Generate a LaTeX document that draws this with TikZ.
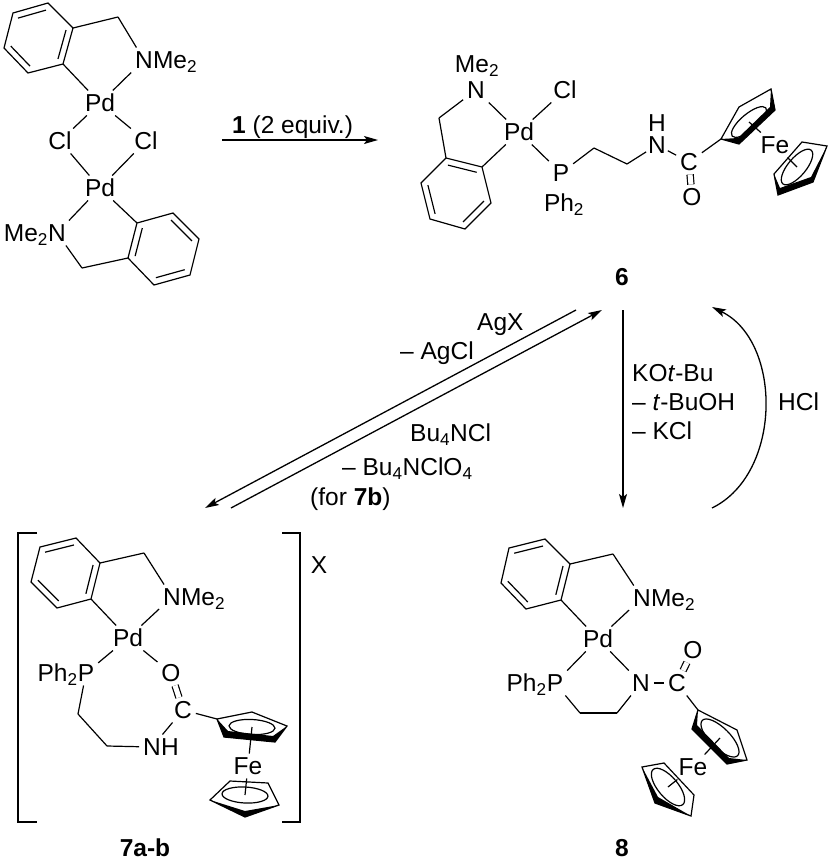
\documentclass[tikz,border=0pt]{standalone}
\usepackage{fontspec}
\setmainfont{Liberation Sans}
\usetikzlibrary{positioning, arrows.meta, calc}

\tikzset{
   atom/.style={inner sep=1pt, outer sep=3pt, text height=17pt, text depth=0pt},
   tailr/.style={inner sep=0pt, text height=17pt, text depth=0pt, right=-4pt of #1},
   taill/.style={inner sep=0pt, text height=17pt, text depth=0pt, left=-4pt of #1},
   lbl/.style={anchor=west, inner sep=0pt, text height=17pt, text depth=0pt},
   cmpd/.style={inner sep=0pt, text height=17pt, text depth=0pt, font=\fontsize{24.5}{28}\selectfont\bfseries},
   bond/.style={line width=1.2pt, line join=miter},
   dbl/.style={double, double distance=5pt, line width=1.2pt},
   rxn/.style={line width=1.3pt, -{Stealth[length=14pt, width=8pt, inset=3pt]}}
}

% benzene ring, double bonds at 1-2, 3-4, 5-6
\newcommand{\arene}[7]{
   \coordinate (#1-1) at #2; \coordinate (#1-2) at #3; \coordinate (#1-3) at #4;
   \coordinate (#1-4) at #5; \coordinate (#1-5) at #6; \coordinate (#1-6) at #7;
   \coordinate (#1-c) at ($(#1-1)!.5!(#1-4)$);
   \draw[bond] (#1-1) -- (#1-2) -- (#1-3) -- (#1-4) -- (#1-5) -- (#1-6) -- cycle;
   \draw[bond] ($(#1-1)!.2!(#1-c)$) -- ($(#1-2)!.2!(#1-c)$);
   \draw[bond] ($(#1-3)!.2!(#1-c)$) -- ($(#1-4)!.2!(#1-c)$);
   \draw[bond] ($(#1-5)!.2!(#1-c)$) -- ($(#1-6)!.2!(#1-c)$);
}
% cyclopentadienyl: name, outline, bold front, centre, inner ellipse
\newcommand{\cpring}[5]{
   \coordinate (#1) at #4;
   \fill #3 -- cycle;
   \draw[bond] #2 -- cycle;
   \draw[bond] (#1) circle[#5];
}

\begin{document}
\begin{tikzpicture}[x=1pt, y=-1pt, every node/.style={font=\fontsize{24.5}{28}\selectfont}]
   \useasboundingbox (0,0) rectangle (831,860);

   % starting dimer
   \arene{ra}{(13,13)}{(48,3)}{(73,28)}{(63,64)}{(28,73)}{(4,48)}
   \arene{rb}{(128,258)}{(137,223)}{(173,213)}{(199,239)}{(190,275)}{(154,285)}
   \coordinate (cha) at (118,17);
   \coordinate (chb) at (82,268);
   \node[atom] (n_a) at (144,60) {N};
   \node[tailr=n_a] (me_a) {Me\textsubscript{2}};
   \node[atom] (pd_a) at (100,103) {Pd};
   \node[atom] (cl_a) at (60,141) {Cl};
   \node[atom] (cl_b) at (146,141) {Cl};
   \node[atom] (pd_b) at (100,188) {Pd};
   \node[atom] (n_b) at (57,233) {N};
   \node[taill=n_b] (me_b) {Me\textsubscript{2}};
   \path[bond]
    (ra-3) edge (cha)
    (cha) edge (n_a)
    (ra-4) edge (pd_a)
    (n_a) edge (pd_a)
    (pd_a) edge (cl_a)
           edge (cl_b)
    (pd_b) edge (cl_a)
           edge (cl_b)
           edge (n_b)
           edge (rb-2)
    (n_b) edge (chb)
    (chb) edge (rb-1);

   % complex 6
   \arene{rc}{(446,158)}{(482,167)}{(491,203)}{(465,229)}{(430,219)}{(421,183)}
   \coordinate (chc) at (439,118);
   \coordinate (ce1) at (594,148);
   \coordinate (ce2) at (627,164);
   \coordinate (cpjc) at (721,139);
   \node[atom] (me_c) at (477,64) {Me\textsubscript{2}};
   \node[atom] (n_c) at (476,90) {N};
   \node[atom] (cl_c) at (565,90) {Cl};
   \node[atom] (pd_c) at (519,132) {Pd};
   \node[atom] (p_c) at (561,173) {P};
   \node[atom] (ph_c) at (564,203) {Ph\textsubscript{2}};
   \node[atom, inner sep=0pt, outer sep=0pt] (h_c) at (657,123) {H};
   \node[atom, outer sep=1pt] (nh_c) at (657,145) {N};
   \node[atom] (co_c) at (689,162) {C};
   \node[atom] (o_c) at (692,197) {O};
   \node[atom] (fe_c) at (775,145) {Fe};
   \cpring{cpa}{(721,139) -- (739,107) -- (771,89) -- (775,110) -- (739,144)}{(721,139) -- (739,144) -- (775,110) -- (771,89) -- (770,107) -- (738,138)}{(749,122)}{x radius=22, y radius=8, rotate=40}
   \cpring{cpb}{(774,174) -- (802,142) -- (827,146) -- (813,182) -- (778,195)}{(774,174) -- (778,195) -- (813,182) -- (827,146) -- (811,177) -- (780,188)}{(797,167)}{x radius=22, y radius=9, rotate=50}
   \path[bond]
    (n_c) edge (chc)
          edge (pd_c)
    (chc) edge (rc-1)
    (pd_c) edge (rc-2)
           edge (cl_c)
           edge (p_c)
    (p_c) edge (ce1)
    (ce1) edge (ce2)
    (ce2) edge (nh_c)
    (nh_c) edge (co_c)
    (co_c) edge[dbl] (o_c)
           edge (cpjc)
    (cpa) edge (fe_c)
    (cpb) edge (fe_c);

   % cation 7
   \draw[bond] (37,533) -- (18,533) -- (18,822) -- (37,822);
   \draw[bond] (282,533) -- (300,533) -- (300,822) -- (282,822);
   \arene{rd}{(40,547)}{(76,538)}{(100,563)}{(91,599)}{(57,608)}{(31,582)}
   \coordinate (chd) at (144,553);
   \coordinate (cd1) at (78,714);
   \coordinate (cd2) at (107,746);
   \coordinate (cpjd) at (217,719);
   \node[atom] (n_d) at (172,597) {N};
   \node[tailr=n_d] (me_d) {Me\textsubscript{2}};
   \node[atom] (pd_d) at (128,638) {Pd};
   \node[atom] (p_d) at (86,673) {P};
   \node[taill=p_d] (ph_d) {Ph\textsubscript{2}};
   \node[atom] (o_d) at (171,673) {O};
   \node[atom] (co_d) at (183,710) {C};
   \node[atom] (nh_d) at (152,747) {N};
   \node[tailr=nh_d] (h_d) {H};
   \node[atom] (fe_d) at (248,766) {Fe};
   \node[atom] (x_d) at (319,565) {X};
   \cpring{cpc}{(217,719) -- (252,712) -- (287,726) -- (275,742) -- (224,737)}{(217,719) -- (224,737) -- (275,742) -- (287,726) -- (273,736) -- (228,731)}{(252,727)}{x radius=23, y radius=7.5, rotate=-3}
   \cpring{cpd}{(210,800) -- (230,781) -- (268,783) -- (279,805) -- (245,817)}{(210,800) -- (245,817) -- (279,805) -- (245,811)}{(245,795)}{x radius=23, y radius=8, rotate=-3}
   \path[bond]
    (rd-3) edge (chd)
    (chd) edge (n_d)
    (rd-4) edge (pd_d)
    (n_d) edge (pd_d)
    (pd_d) edge (p_d)
           edge (o_d)
    (p_d) edge (cd1)
    (cd1) edge (cd2)
    (cd2) edge (nh_d)
    (co_d) edge (nh_d)
           edge[dbl] (o_d)
           edge (cpjd)
    (cpc) edge (fe_d)
    (cpd) edge (fe_d);

   % amidate 8
   \arene{re}{(509,548)}{(545,539)}{(570,564)}{(561,600)}{(526,609)}{(501,583)}
   \coordinate (che) at (613,554);
   \coordinate (ce3) at (580,713);
   \coordinate (ce4) at (617,713);
   \coordinate (cpje) at (698,710);
   \node[atom] (n_e) at (642,598) {N};
   \node[tailr=n_e] (me_e) {Me\textsubscript{2}};
   \node[atom] (pd_e) at (598,639) {Pd};
   \node[atom] (p_e) at (555,683) {P};
   \node[taill=p_e] (ph_e) {Ph\textsubscript{2}};
   \node[atom] (na_e) at (641,683) {N};
   \node[atom] (co_e) at (677,683) {C};
   \node[atom] (o_e) at (693,650) {O};
   \node[atom] (fe_e) at (693,767) {Fe};
   \cpring{cpe}{(698,710) -- (737,730) -- (747,760) -- (727,764) -- (692,729)}{(698,710) -- (692,729) -- (727,764) -- (747,760) -- (729,758) -- (697,725)}{(720,738)}{x radius=25, y radius=10, rotate=-45}
   \cpring{cpf}{(642,767) -- (664,763) -- (694,795) -- (691,816) -- (655,803)}{(642,767) -- (655,803) -- (691,816) -- (658,797)}{(668,787)}{x radius=23, y radius=10, rotate=-50}
   \path[bond]
    (re-3) edge (che)
    (che) edge (n_e)
    (re-4) edge (pd_e)
    (n_e) edge (pd_e)
    (pd_e) edge (p_e)
           edge (na_e)
    (p_e) edge (ce3)
    (ce3) edge (ce4)
    (ce4) edge (na_e)
    (na_e) edge (co_e)
    (co_e) edge[dbl] (o_e)
           edge (cpje)
    (cpe) edge (fe_e)
    (cpf) edge (fe_e);

   % compound numbers
   \node[cmpd] (lab6) at (622,277) {6};
   \node[cmpd] (lab7) at (145,848) {7a-b};
   \node[cmpd] (lab8) at (622,848) {8};

   % arrows
   \coordinate (a1s) at (222,140); \coordinate (a1e) at (378,140);
   \coordinate (a2s) at (576,310); \coordinate (a2e) at (205,508);
   \coordinate (a3s) at (231,508); \coordinate (a3e) at (602,310);
   \coordinate (a4s) at (623,310); \coordinate (a4e) at (623,508);
   \coordinate (a5s) at (712,508); \coordinate (a5e) at (712,307);
   \draw[rxn] (a1s) -- (a1e);
   \draw[rxn] (a2s) -- (a2e);
   \draw[rxn] (a3s) -- (a3e);
   \draw[rxn] (a4s) -- (a4e);
   \draw[rxn] (a5s) to[bend right=64] (a5e);

   \node[lbl] (t1) at (232,125) {\textbf{1} (2 equiv.)};
   \node[lbl] (t2) at (477,322) {AgX};
   \node[lbl] (t3) at (400,351) {– AgCl};
   \node[lbl] (t4) at (410,433) {Bu\textsubscript{4}NCl};
   \node[lbl] (t5) at (342,467) {– Bu\textsubscript{4}NClO\textsubscript{4}};
   \node[lbl] (t6) at (310,497) {(for \textbf{7b})};
   \node[lbl] (t7) at (632,373) {KO\textit{t}-Bu};
   \node[lbl] (t8) at (632,402) {– \textit{t}-BuOH};
   \node[lbl] (t9) at (632,431) {– KCl};
   \node[lbl] (t10) at (778,402) {HCl};
\end{tikzpicture}
\end{document}
